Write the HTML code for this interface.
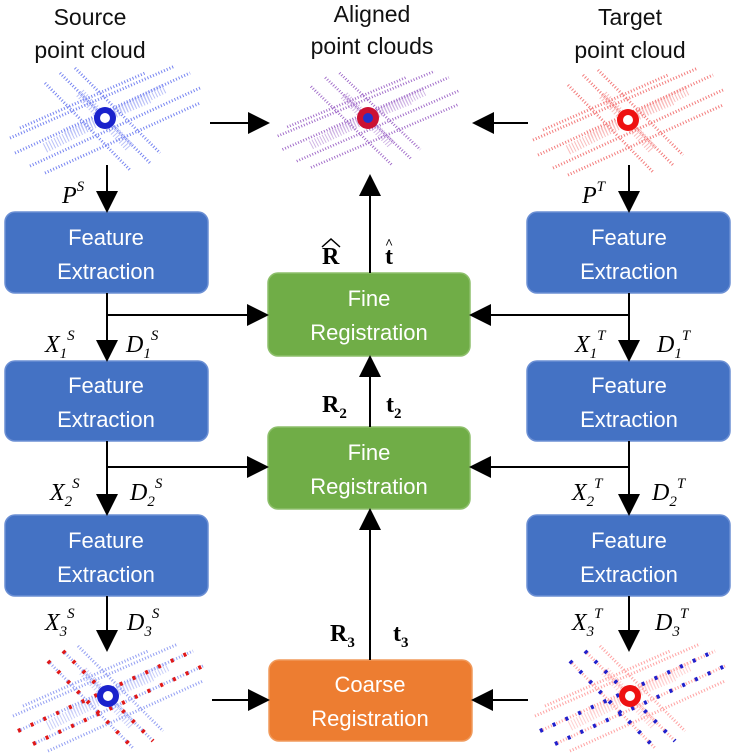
<!DOCTYPE html>
<html><head><style>
body{margin:0;background:#fff;}
svg{display:block;}
.t{font-family:"Liberation Sans",sans-serif;font-size:23px;fill:#111;text-anchor:middle;}
.b{font-family:"Liberation Sans",sans-serif;font-size:22px;fill:#fff;text-anchor:middle;}
.m{font-family:"Liberation Serif",serif;font-style:italic;font-size:24px;fill:#000;}
.s{font-size:15px;}
.r{font-family:"Liberation Serif",serif;font-weight:bold;font-size:24px;fill:#000;}
</style></head><body>
<svg width="740" height="756" viewBox="0 0 740 756">
<defs>
<marker id="A" markerWidth="22" markerHeight="22" refX="20" refY="11" orient="auto" markerUnits="userSpaceOnUse" viewBox="0 0 22 22"><path d="M0,0 L22,11 L0,22z" fill="#000"/></marker>
<g id="lines">
<path d="M-90,35 L85,-45 M-95,20 L70,-52 M-75,48 L95,-30 M-60,55 L95,-15 M-45,-45 L45,45 M-60,-35 L25,52 M-30,-50 L55,35 M-85,10 L40,-45" stroke-width="3" stroke-dasharray="1 2"/>
<path d="M-60,30 L60,-30 M-25,-25 L25,30 M-40,15 L45,-20" stroke-width="10" stroke-dasharray="1 2" opacity="0.5"/>
</g>
</defs>
<text class="t" x="90" y="25">Source</text><text class="t" x="90" y="58">point cloud</text>
<text class="t" x="372" y="22">Aligned</text><text class="t" x="372" y="54">point clouds</text>
<text class="t" x="630" y="25">Target</text><text class="t" x="630" y="58">point cloud</text>
<!-- point clouds -->
<g transform="translate(105,118)" stroke="#5566ee" opacity="0.8"><use href="#lines"/></g>
<circle cx="105" cy="118" r="11" fill="#1a22cc"/><circle cx="105" cy="118" r="5" fill="#fff"/>
<g transform="translate(628,120)" stroke="#ee4444" opacity="0.7"><use href="#lines"/></g>
<circle cx="628" cy="120" r="11" fill="#ee1111"/><circle cx="628" cy="120" r="5" fill="#fff"/>
<g transform="translate(368,118) scale(0.95,0.9)" stroke="#8844bb" opacity="0.8"><use href="#lines"/></g>
<circle cx="368" cy="118" r="11" fill="#cc1133"/><circle cx="368" cy="118" r="5" fill="#2233cc"/>
<g transform="translate(108,696)">
<g stroke="#6677ee" opacity="0.7"><use href="#lines"/></g>
<path d="M-90,35 L85,-45 M-75,48 L95,-30 M-45,-45 L45,45 M-60,-35 L25,52" stroke="#e01818" stroke-width="4" stroke-dasharray="3 11"/>
<circle r="11" fill="#1a22cc"/><circle r="5" fill="#fff"/></g>
<g transform="translate(630,696)">
<g stroke="#ff6666" opacity="0.6"><use href="#lines"/></g>
<path d="M-90,35 L85,-45 M-75,48 L95,-30 M-45,-45 L45,45 M-60,-35 L25,52" stroke="#2020cc" stroke-width="4" stroke-dasharray="3 11"/>
<circle r="11" fill="#ee1111"/><circle r="5" fill="#fff"/></g>
<!-- boxes -->
<g stroke="#6b8fd4" stroke-width="1.5" fill="#4472c4">
<rect x="5" y="212" width="203" height="81" rx="10"/>
<rect x="5" y="361" width="203" height="80" rx="10"/>
<rect x="5" y="515" width="203" height="81" rx="10"/>
<rect x="527" y="212" width="203" height="81" rx="10"/>
<rect x="527" y="361" width="203" height="80" rx="10"/>
<rect x="527" y="515" width="203" height="81" rx="10"/>
</g>
<g stroke="#8dbf6b" stroke-width="1.5" fill="#70ad47">
<rect x="268" y="273" width="202" height="83" rx="10"/>
<rect x="268" y="427" width="202" height="82" rx="10"/>
</g>
<rect x="269" y="660" width="203" height="81" rx="10" fill="#ed7d31" stroke="#f09a5c" stroke-width="1.5"/>
<text class="b" x="106" y="245">Feature</text><text class="b" x="106" y="279">Extraction</text>
<text class="b" x="106" y="393">Feature</text><text class="b" x="106" y="427">Extraction</text>
<text class="b" x="106" y="548">Feature</text><text class="b" x="106" y="582">Extraction</text>
<text class="b" x="629" y="245">Feature</text><text class="b" x="629" y="279">Extraction</text>
<text class="b" x="629" y="393">Feature</text><text class="b" x="629" y="427">Extraction</text>
<text class="b" x="629" y="548">Feature</text><text class="b" x="629" y="582">Extraction</text>
<text class="b" x="369" y="306">Fine</text><text class="b" x="369" y="340">Registration</text>
<text class="b" x="369" y="460">Fine</text><text class="b" x="369" y="494">Registration</text>
<text class="b" x="370" y="692">Coarse</text><text class="b" x="370" y="726">Registration</text>
<!-- connectors -->
<g stroke="#000" stroke-width="2" fill="none">
<line x1="107" y1="165" x2="107" y2="211" marker-end="url(#A)"/>
<line x1="107" y1="293" x2="107" y2="360" marker-end="url(#A)"/>
<line x1="107" y1="441" x2="107" y2="514" marker-end="url(#A)"/>
<line x1="107" y1="596" x2="107" y2="650" marker-end="url(#A)"/>
<line x1="107" y1="315" x2="267" y2="315" marker-end="url(#A)"/>
<line x1="107" y1="467" x2="267" y2="467" marker-end="url(#A)"/>
<line x1="629" y1="165" x2="629" y2="211" marker-end="url(#A)"/>
<line x1="629" y1="293" x2="629" y2="360" marker-end="url(#A)"/>
<line x1="629" y1="441" x2="629" y2="514" marker-end="url(#A)"/>
<line x1="629" y1="596" x2="629" y2="650" marker-end="url(#A)"/>
<line x1="629" y1="315" x2="471" y2="315" marker-end="url(#A)"/>
<line x1="629" y1="467" x2="471" y2="467" marker-end="url(#A)"/>
<line x1="370" y1="273" x2="370" y2="176" marker-end="url(#A)"/>
<line x1="370" y1="427" x2="370" y2="357" marker-end="url(#A)"/>
<line x1="370" y1="660" x2="370" y2="510" marker-end="url(#A)"/>
<line x1="210" y1="123" x2="268" y2="123" marker-end="url(#A)"/>
<line x1="528" y1="123" x2="474" y2="123" marker-end="url(#A)"/>
<line x1="212" y1="700" x2="268" y2="700" marker-end="url(#A)"/>
<line x1="528" y1="700" x2="473" y2="700" marker-end="url(#A)"/>
</g>
<text class="m" x="62" y="203">P<tspan class="s" dy="-12">S</tspan></text>
<text class="m" x="582" y="203">P<tspan class="s" dy="-12">T</tspan></text>
<text class="m" x="45" y="352">X<tspan class="s" dy="6">1</tspan><tspan class="s" dy="-18">S</tspan></text>
<text class="m" x="126" y="352">D<tspan class="s" dy="6">1</tspan><tspan class="s" dy="-18">S</tspan></text>
<text class="m" x="575" y="352">X<tspan class="s" dy="6">1</tspan><tspan class="s" dy="-18">T</tspan></text>
<text class="m" x="657" y="352">D<tspan class="s" dy="6">1</tspan><tspan class="s" dy="-18">T</tspan></text>
<text class="m" x="50" y="500">X<tspan class="s" dy="6">2</tspan><tspan class="s" dy="-18">S</tspan></text>
<text class="m" x="130" y="500">D<tspan class="s" dy="6">2</tspan><tspan class="s" dy="-18">S</tspan></text>
<text class="m" x="572" y="500">X<tspan class="s" dy="6">2</tspan><tspan class="s" dy="-18">T</tspan></text>
<text class="m" x="652" y="500">D<tspan class="s" dy="6">2</tspan><tspan class="s" dy="-18">T</tspan></text>
<text class="m" x="45" y="630">X<tspan class="s" dy="6">3</tspan><tspan class="s" dy="-18">S</tspan></text>
<text class="m" x="127" y="630">D<tspan class="s" dy="6">3</tspan><tspan class="s" dy="-18">S</tspan></text>
<text class="m" x="572" y="630">X<tspan class="s" dy="6">3</tspan><tspan class="s" dy="-18">T</tspan></text>
<text class="m" x="655" y="630">D<tspan class="s" dy="6">3</tspan><tspan class="s" dy="-18">T</tspan></text>
<text class="r" x="322" y="264">R</text>
<path d="M322,247 L331,239 L340,247" stroke="#000" stroke-width="1.5" fill="none"/>
<text class="r" x="385" y="264">t</text>
<text class="r" x="385" y="248" style="font-size:14px">^</text>
<text class="r" x="322" y="412">R<tspan class="s" dy="6">2</tspan></text>
<text class="r" x="386" y="412">t<tspan class="s" dy="6">2</tspan></text>
<text class="r" x="330" y="641">R<tspan class="s" dy="6">3</tspan></text>
<text class="r" x="393" y="641">t<tspan class="s" dy="6">3</tspan></text>
</svg>
</body></html>
